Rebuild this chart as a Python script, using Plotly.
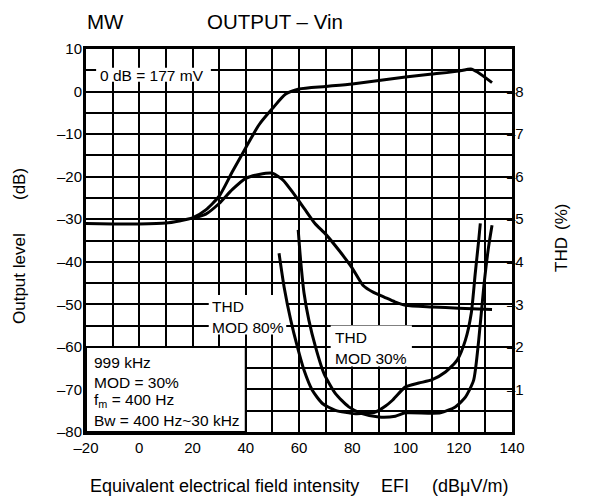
import plotly.graph_objects as go

# ---------------- data ----------------
# Output level (dB) vs EFI (dBuV/m)
out30_x = [-20, -10, 0, 10, 15, 20, 25, 30, 35, 40, 45, 50, 55, 60, 70, 80, 90, 100, 110, 120, 124.5, 127, 132.5]
out30_y = [-31, -31.1, -31.1, -30.9, -30.4, -29.7, -27.8, -24.6, -18.8, -13.2, -7.8, -4, -0.6, 0.6, 1.2, 1.8, 2.6, 3.4, 4.1, 4.8, 5.3, 4.6, 2.1]

out80_x = [20, 25, 30, 35, 40, 45, 50, 54, 58, 62, 66, 70, 75, 80, 84, 88, 92, 96, 100, 110, 120, 132.5]
out80_y = [-29.8, -28.8, -26.3, -23, -20.4, -19.5, -19.2, -20.8, -24, -27.5, -31, -33.5, -37.3, -41.5, -45.5, -47.2, -48.3, -49.4, -50.2, -50.6, -50.9, -51.2]

# THD (%) vs EFI
thd80_x = [52.5, 54.4, 56.9, 59.4, 61.9, 65, 68.8, 73.7, 81.2, 88.7, 92.5, 95, 100, 105, 110, 115, 119.4, 122.5, 124.7, 126.2, 127.5, 128.1]
thd80_y = [4.2, 3.41, 2.63, 2.0, 1.45, 0.98, 0.67, 0.51, 0.43, 0.47, 0.61, 0.74, 1.06, 1.15, 1.23, 1.41, 1.69, 2.16, 2.79, 3.73, 4.51, 4.9]

thd30_x = [59.7, 60.6, 61.9, 63.7, 66.2, 69.4, 73.7, 78.7, 83.7, 90, 96.2, 100, 113.1, 118.7, 122.5, 125.6, 127.5, 129.4, 131.2, 132.5]
thd30_y = [4.75, 4.04, 3.26, 2.63, 2.0, 1.37, 0.9, 0.59, 0.43, 0.35, 0.37, 0.45, 0.45, 0.59, 0.82, 1.22, 2.16, 3.41, 4.35, 4.86]

x_ticks = [-20, 0, 20, 40, 60, 80, 100, 120, 140]
x_ticklabels = ["–20", "0", "20", "40", "60", "80", "100", "120", "140"]
x_minor = [-10, 10, 30, 50, 70, 90, 110, 130]
y_ticks = [-80, -70, -60, -50, -40, -30, -20, -10, 0, 10]
y_ticklabels = ["–80", "–70", "–60", "–50", "–40", "–30", "–20", "–10", "0", "10"]
y_minor = [-75, -65, -55, -45, -35, -25, -15, -5, 5]
thd_ticks = [1, 2, 3, 4, 5, 6, 7, 8]
thd_ticklabels = ["–1", "–2", "–3", "–4", "–5", "–6", "–7", "–8"]

# ---------------- figure ----------------
FONT = "Liberation Sans, Arial, sans-serif"
W, H = 590, 502
OFF = 8  # page body margin
ML, MR, MT, MB = 78, 86, 41, 78
PW, PH = W - ML - MR, H - MT - MB

def px(xs):
    return (xs - OFF - ML) / PW

def py(ys):
    return (H - MB - (ys - OFF)) / PH

line = dict(color="black", width=3, shape="spline", smoothing=0.6)

fig = go.Figure()
fig.add_trace(go.Scatter(x=out30_x, y=out30_y, mode="lines", line=line, name="Output MOD 30%"))
fig.add_trace(go.Scatter(x=out80_x, y=out80_y, mode="lines", line=line, name="Output MOD 80%"))
fig.add_trace(go.Scatter(x=thd80_x, y=thd80_y, mode="lines", line=line, name="THD MOD 80%", yaxis="y2"))
fig.add_trace(go.Scatter(x=thd30_x, y=thd30_y, mode="lines", line=line, name="THD MOD 30%", yaxis="y2"))

grid = dict(showgrid=True, gridcolor="black", gridwidth=2, zeroline=False,
            showline=True, linecolor="black", linewidth=3, mirror=True,
            ticks="", tickfont=dict(family=FONT, size=15, color="black"))

fig.update_layout(
    width=W, height=H, margin=dict(l=ML, r=MR, t=MT, b=MB),
    paper_bgcolor="white", plot_bgcolor="white", showlegend=False,
    font=dict(family=FONT, color="black"),
    xaxis=dict(range=[-20, 140], tickmode="array", tickvals=x_ticks, ticktext=x_ticklabels,
               minor=dict(tickmode="array", tickvals=x_minor, showgrid=True,
                          gridcolor="black", gridwidth=2, ticks=""),
               **grid),
    yaxis=dict(range=[-80, 10], tickmode="array", tickvals=y_ticks, ticktext=y_ticklabels,
               minor=dict(tickmode="array", tickvals=y_minor, showgrid=True,
                          gridcolor="black", gridwidth=2, ticks=""),
               ticklabelstandoff=-2, **grid),
    yaxis2=dict(range=[0, 9], overlaying="y", side="right", tickmode="array",
                tickvals=thd_ticks, ticktext=thd_ticklabels, showgrid=False, zeroline=False,
                showline=False, ticks="", ticklabelstandoff=-6,
                tickfont=dict(family=FONT, size=15, color="black")),
)

# white label boxes (between gridlines and traces)
boxes = [
    (-16.2, 26.9, 2.3, 5.6),
    (26.1, 55.2, -57.1, -47.8),
    (71.9, 102.4, -64.6, -55.0),
]
for x0, x1, y0, y1 in boxes:
    fig.add_shape(type="rect", xref="x", yref="y", x0=x0, x1=x1, y0=y0, y1=y1,
                  fillcolor="white", line=dict(width=0), layer="between")
fig.add_shape(type="rect", xref="x", yref="y", x0=-20, x1=40, y0=-80, y1=-60,
              fillcolor="white", line=dict(color="black", width=2), layer="between")

def note(text, x, y, xanchor="left", size=15.5, xref="x", yref="y", angle=0):
    fig.add_annotation(text=text, x=x, y=y, xref=xref, yref=yref, showarrow=False,
                       xanchor=xanchor, yanchor="middle", textangle=angle,
                       font=dict(family=FONT, size=size, color="black"))

note("0 dB = 177 mV", 4.9, 3.8, xanchor="center")
note("THD", 26.4, -50.5)
note("MOD 80%", 26.4, -55.4)
note("THD", 72.6, -57.8)
note("MOD 30%", 72.6, -62.7)
note("999 kHz", -17.7, -63.6)
note("MOD = 30%", -17.7, -68.4)
note("f<sub>m</sub> = 400 Hz", -17.7, -72.6)
note("Bw = 400 Hz~30 kHz", -17.7, -77.3)

# titles (outside plot), positions in screen pixels
note("MW", px(105), py(21), xanchor="center", size=20.5, xref="paper", yref="paper")
note("OUTPUT – Vin", px(275), py(21), xanchor="center", size=20.5, xref="paper", yref="paper")
note("Output level", px(19), py(279), xanchor="center", size=17, xref="paper", yref="paper", angle=-90)
note("(dB)", px(19), py(184), xanchor="center", size=17, xref="paper", yref="paper", angle=-90)
note("THD", px(561), py(255), xanchor="center", size=17, xref="paper", yref="paper", angle=-90)
note("(%)", px(561), py(217), xanchor="center", size=17, xref="paper", yref="paper", angle=-90)
note("Equivalent electrical field intensity", px(88), py(486), xanchor="left", size=18, xref="paper", yref="paper")
note("EFI", px(395), py(486), xanchor="center", size=18, xref="paper", yref="paper")
note("(dBμV/m)", px(470), py(486), xanchor="center", size=18, xref="paper", yref="paper")

fig.write_html("out.html")
